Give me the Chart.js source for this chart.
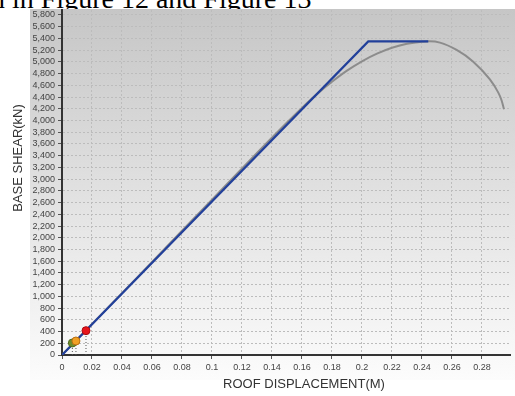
<!DOCTYPE html>
<html>
<head>
<meta charset="utf-8">
<script src="https://cdn.jsdelivr.net/npm/chart.js@4.4.0/dist/chart.umd.min.js"></script>
<style>
  html, body { margin: 0; padding: 0; background: #fff; }
  #wrap { position: relative; width: 515px; height: 396px; overflow: hidden; }
  #caption { position: absolute; left: -9px; top: -15px; font: 28px "Liberation Serif", "Times New Roman", serif; line-height: 28px; color: #000; white-space: nowrap; }
  #grafico { position: absolute; left: 0; top: 0; }
</style>
</head>
<body>
<div id="wrap">
  <div id="caption">n in Figure 12 and Figure 13</div>
  <canvas id="grafico" width="515" height="396"></canvas>
</div>
<script>
// curva de capacidad (pushover)
var capacityX = [0, 0.05, 0.1, 0.13, 0.15, 0.16, 0.17, 0.18, 0.19, 0.2, 0.21, 0.22, 0.23, 0.24, 0.245, 0.252, 0.2631, 0.2742, 0.2853, 0.2909, 0.293, 0.2947];
var capacityY = [0, 1320, 2650, 3445, 3965, 4215, 4450, 4660, 4850, 5010, 5140, 5240, 5310, 5345, 5350, 5328, 5203, 5004, 4700, 4475, 4350, 4192];
// idealizacion bilineal
var bilinearX = [0, 0.2042, 0.2442];
var bilinearY = [0, 5350, 5350];
// pasos marcados
var stepX = [0.0069, 0.0093, 0.016];
var stepY = [205, 239, 415];
var stepColors = ['#6f8c2c', '#f0a024', '#e8141c'];
var stepBorders = ['#4f6a1c', '#b87010', '#a80c10'];
// marcas de los ejes
var xTicks = [0, 0.02, 0.04, 0.06, 0.08, 0.1, 0.12, 0.14, 0.16, 0.18, 0.2, 0.22, 0.24, 0.26, 0.28];
var yTicks = [0, 200, 400, 600, 800, 1000, 1200, 1400, 1600, 1800, 2000, 2200, 2400, 2600, 2800, 3000,
              3200, 3400, 3600, 3800, 4000, 4200, 4400, 4600, 4800, 5000, 5200, 5400, 5600, 5800];

var xMax = 0.2987;
var yMax = 5885;

function puntos(xs, ys) {
    var out = [];
    for (var i = 0; i < xs.length; i++) out.push({x: xs[i], y: ys[i]});
    return out;
}

var datasets = [];
// puntos primero para que queden encima
datasets.push({
    data: puntos(stepX, stepY),
    showLine: false,
    pointRadius: 4,
    pointBackgroundColor: stepColors,
    pointBorderColor: stepBorders,
    pointBorderWidth: 1
});
datasets.push({
    data: puntos(bilinearX, bilinearY),
    borderColor: '#22409a',
    borderWidth: 2.2,
    pointRadius: 0,
    tension: 0
});
datasets.push({
    data: puntos(capacityX, capacityY),
    borderColor: '#8c8c8c',
    borderWidth: 2,
    pointRadius: 0,
    cubicInterpolationMode: 'monotone'
});
for (var i = 0; i < stepX.length; i++) {
    datasets.push({
        data: [{x: stepX[i], y: 0}, {x: stepX[i], y: stepY[i]}],
        borderColor: '#555',
        borderWidth: 1,
        borderDash: [1, 2],
        pointRadius: 0
    });
}

function fijarTicks(valores) {
    return function (scale) {
        scale.ticks = valores.map(function (v) { return {value: v}; });
    };
}

var fondo = {
    id: 'fondo',
    beforeDraw: function (chart) {
        var ctx = chart.ctx;
        var g = ctx.createLinearGradient(0, 9, 0, 380);
        g.addColorStop(0, '#c6c6c6');
        g.addColorStop(0.55, '#e4e4e4');
        g.addColorStop(1, '#fcfcfc');
        ctx.save();
        ctx.fillStyle = g;
        ctx.fillRect(30, 9, 485, 371);
        ctx.restore();
    },
    afterDraw: function (chart) {
        var ctx = chart.ctx;
        ctx.save();
        ctx.fillStyle = '#333';
        ctx.font = '13px "Liberation Sans", Arial, sans-serif';
        ctx.textAlign = 'center';
        ctx.textBaseline = 'middle';
        ctx.fillText('ROOF DISPLACEMENT(M)', 304, 384);
        ctx.translate(18, 158);
        ctx.rotate(-Math.PI / 2);
        ctx.fillText('BASE SHEAR(kN)', 0, 0);
        ctx.restore();
    }
};

var fuenteTicks = { family: '"Liberation Sans", Arial, sans-serif', size: 9 };

new Chart(document.getElementById('grafico'), {
    type: 'line',
    data: { datasets: datasets },
    options: {
        responsive: false,
        animation: false,
        devicePixelRatio: 1,
        layout: { padding: { top: 10, right: 5, left: 0, bottom: 0 } },
        plugins: { legend: { display: false }, tooltip: { enabled: false } },
        scales: {
            x: {
                type: 'linear',
                min: 0,
                max: xMax,
                afterBuildTicks: fijarTicks(xTicks),
                afterFit: function (scale) { scale.height = 41; },
                ticks: {
                    maxRotation: 0,
                    autoSkip: false,
                    padding: 3,
                    color: '#444',
                    font: fuenteTicks,
                    callback: function (v) { return String(Number(v.toFixed(2))); }
                },
                grid: { color: '#bcbcbc', lineWidth: 1, tickLength: 4, tickColor: '#555' },
                border: { color: '#333', width: 2, dash: [2, 2] }
            },
            y: {
                type: 'linear',
                min: 0,
                max: yMax,
                afterBuildTicks: fijarTicks(yTicks),
                afterFit: function (scale) { scale.width = 62; },
                ticks: {
                    autoSkip: false,
                    padding: 3,
                    color: '#444',
                    font: fuenteTicks,
                    callback: function (v) { return v.toLocaleString('en-US'); }
                },
                grid: { color: '#bcbcbc', lineWidth: 1, tickLength: 4, tickColor: '#555' },
                border: { color: '#333', width: 2, dash: [2, 2] }
            }
        }
    },
    plugins: [fondo]
});
</script>
</body>
</html>
